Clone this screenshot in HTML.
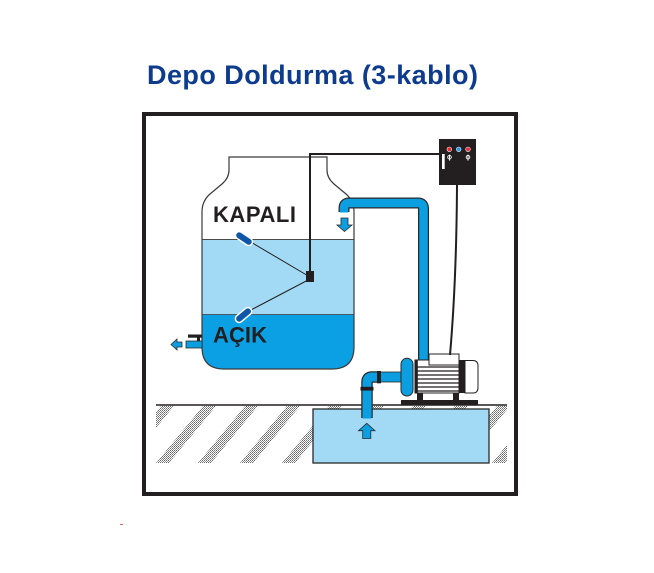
<!DOCTYPE html>
<html>
<head>
<meta charset="utf-8">
<style>
  html,body{margin:0;padding:0;background:#fff;}
  svg{display:block;}
</style>
</head>
<body>
<svg width="654" height="573" viewBox="0 0 654 573" xmlns="http://www.w3.org/2000/svg">
  <defs>
    <pattern id="dots" width="2" height="2" patternUnits="userSpaceOnUse">
      <rect x="0" y="0" width="1" height="1" fill="#6a6a6a"/>
      <rect x="1" y="1" width="1" height="1" fill="#8a8a8a"/>
    </pattern>
    <clipPath id="hatchClip">
      <rect x="156" y="406" width="351" height="57"/>
    </clipPath>
    <clipPath id="tankClip">
      <path d="M229,157 L229,170 Q229,178 222,184 L210,194 Q202,201 202,212 L202,347 Q202,369 224,369 L332,369 Q354,369 354,347 L354,212 Q354,201 346,194 L334,184 Q327,178 327,170 L327,157 Z"/>
    </clipPath>
  </defs>

  <!-- Title -->
  <text x="147" y="84" font-family="'Liberation Sans', sans-serif" font-weight="bold" font-size="27" fill="#0d3b8e" textLength="331" lengthAdjust="spacing">Depo Doldurma (3-kablo)</text>

  <!-- Frame -->
  <rect x="144" y="114" width="372" height="380" fill="#fff" stroke="#231f20" stroke-width="4"/>

  <!-- Ground hatch -->
  <g clip-path="url(#hatchClip)" fill="url(#dots)">
    <polygon points="161,406 174,406 127,463 114,463"/>
    <polygon points="203,406 216,406 169,463 156,463"/>
    <polygon points="245,406 258,406 211,463 198,463"/>
    <polygon points="287,406 300,406 253,463 240,463"/>
    <polygon points="329,406 342,406 295,463 282,463"/>
    <polygon points="371,406 384,406 337,463 324,463"/>
    <polygon points="413,406 426,406 379,463 366,463"/>
    <polygon points="455,406 468,406 421,463 408,463"/>
    <polygon points="497,406 510,406 463,463 450,463"/>
    <polygon points="539,406 552,406 505,463 492,463"/>
  </g>

  <!-- Sump tank -->
  <rect x="313" y="409" width="176" height="54" fill="#a2d9f4" stroke="#2a2a2a" stroke-width="1.3"/>

  <!-- Ground line -->
  <line x1="156" y1="405" x2="507" y2="405" stroke="#231f20" stroke-width="1.5"/>

  <!-- Tank contents -->
  <g clip-path="url(#tankClip)">
    <rect x="195" y="150" width="170" height="230" fill="#fff"/>
    <rect x="195" y="239" width="170" height="75" fill="#a2d9f4"/>
    <rect x="195" y="314" width="170" height="70" fill="#0ba0e3"/>
    <line x1="195" y1="239.5" x2="365" y2="239.5" stroke="#4a4a4a" stroke-width="1"/>
    <line x1="195" y1="314.5" x2="365" y2="314.5" stroke="#4a5a66" stroke-width="1"/>
  </g>
  <path d="M229,157 L229,170 Q229,178 222,184 L210,194 Q202,201 202,212 L202,347 Q202,369 224,369 L332,369 Q354,369 354,347 L354,212 Q354,201 346,194 L334,184 Q327,178 327,170 L327,157 Z" fill="none" stroke="#3a3a3a" stroke-width="1.2"/>

  <!-- Left outlet -->
  <rect x="186" y="341" width="16" height="7" fill="#0b9ee1" stroke="#2a2a2a" stroke-width="0.8"/>
  <rect x="188" y="334.5" width="14" height="3.2" fill="#231f20"/>
  <rect x="197" y="337.5" width="3" height="3.5" fill="#231f20"/>
  <polygon points="171,344.5 177,339 177,342 182,342 182,347 177,347 177,350" fill="#0b9ee1" stroke="#2a2a2a" stroke-width="0.8"/>

  <!-- Discharge pipe (top) -->
  <path d="M344,212 L344,208 Q344,203 349,203 L418,203 Q423.5,203 423.5,208.5 L423.5,362" fill="none" stroke="#2a2a2a" stroke-width="11" stroke-linejoin="round"/>
  <path d="M344,212.5 L344,208 Q344,203 349,203 L418,203 Q423.5,203 423.5,208.5 L423.5,362" fill="none" stroke="#0b9ee1" stroke-width="8.5" stroke-linejoin="round"/>

  <!-- down arrow under spout -->
  <polygon points="341,218 348,218 348,225 352,225 344.5,231.5 337,225 341,225" fill="#0b9ee1" stroke="#2a2a2a" stroke-width="0.8"/>

  <!-- Suction pipe -->
  <path d="M381,377 L372,377 Q367,377 367,382 L367,418" fill="none" stroke="#2a2a2a" stroke-width="11.5" stroke-linejoin="round"/>
  <path d="M382,377 L372,377 Q367,377 367,382 L367,418.5" fill="none" stroke="#0b9ee1" stroke-width="9" stroke-linejoin="round"/>
  <rect x="380" y="372" width="22" height="10" fill="#0b9ee1" stroke="#2a2a2a" stroke-width="0.8"/>
  <rect x="377" y="371" width="4" height="12.3" fill="#231f20"/>
  <rect x="360.5" y="386.8" width="13" height="3.8" fill="#231f20"/>

  <!-- up arrow -->
  <polygon points="366.8,423.3 375,430.7 370.8,430.7 370.8,438.5 362.7,438.5 362.7,430.7 358.5,430.7" fill="#0b9ee1" stroke="#2a2a2a" stroke-width="0.8"/>

  <!-- Pump -->
  <rect x="401" y="400" width="77" height="5" fill="#231f20"/>
  <rect x="417" y="393" width="6" height="7" fill="#231f20"/>
  <rect x="453" y="393" width="6" height="7" fill="#231f20"/>
  <rect x="415" y="360" width="44" height="33" fill="#fff" stroke="#231f20" stroke-width="1"/>
  <rect x="415" y="360" width="2.8" height="33" fill="#231f20"/>
  <g stroke="#231f20" stroke-width="1.2">
    <line x1="417" y1="367" x2="459" y2="367"/>
    <line x1="417" y1="371" x2="459" y2="371"/>
    <line x1="417" y1="375" x2="459" y2="375"/>
    <line x1="417" y1="379" x2="459" y2="379"/>
    <line x1="417" y1="383" x2="459" y2="383"/>
    <line x1="417" y1="387" x2="459" y2="387"/>
    <line x1="417" y1="391" x2="459" y2="391"/>
  </g>
  <rect x="429" y="354" width="30" height="11" fill="#fff" stroke="#231f20" stroke-width="1"/>
  <rect x="459" y="360" width="6" height="33" fill="#231f20"/>
  <path d="M465,360.5 L473,360.5 Q478,360.5 478,366 L478,387.5 Q478,393 473,393 L465,393 Z" fill="#fff" stroke="#231f20" stroke-width="1"/>
  <rect x="401" y="358.3" width="12" height="37.7" rx="6" ry="6" fill="#0b9ee1" stroke="#2a2a2a" stroke-width="1"/>

  <!-- Control box -->
  <rect x="439" y="139" width="37" height="46" fill="#231f20"/>
  <circle cx="449.3" cy="149.3" r="2.3" fill="#e8303a" stroke="#fff" stroke-width="0.6"/>
  <circle cx="458.7" cy="149.3" r="2.3" fill="#2a9be6" stroke="#fff" stroke-width="0.6"/>
  <circle cx="468" cy="149.3" r="2.3" fill="#e8303a" stroke="#fff" stroke-width="0.6"/>
  <rect x="442" y="154" width="2.7" height="15" fill="#fff"/>
  <g stroke="#fff" fill="none" stroke-width="0.9">
    <circle cx="449.5" cy="157.2" r="1.8"/>
    <line x1="449.5" y1="154.6" x2="449.5" y2="160.6"/>
    <circle cx="468" cy="157.2" r="1.8"/>
    <line x1="468" y1="154.6" x2="468" y2="160.6"/>
  </g>

  <!-- Wires -->
  <polyline points="439,154 310,154 310,274" fill="none" stroke="#231f20" stroke-width="2"/>
  <path d="M457,185 Q456.5,280 450,355" fill="none" stroke="#231f20" stroke-width="2"/>
  <line x1="310" y1="277" x2="249" y2="241" stroke="#231f20" stroke-width="1"/>
  <line x1="310" y1="279" x2="249" y2="311" stroke="#231f20" stroke-width="1"/>
  <rect x="306" y="271" width="8" height="11" fill="#231f20"/>

  <!-- Floats -->
  <rect x="234.5" y="234.8" width="19" height="7.5" rx="3.75" ry="3.75" fill="#0e56a8" stroke="#fff" stroke-width="1.5" transform="rotate(34 244 238.5)"/>
  <rect x="234" y="311.3" width="19" height="7.5" rx="3.75" ry="3.75" fill="#0e56a8" stroke="#fff" stroke-width="1.5" transform="rotate(-40 243.5 315)"/>

  <!-- Labels -->
  <text x="213" y="222" font-family="'Liberation Sans', sans-serif" font-weight="bold" font-size="22" fill="#231f20" textLength="83" lengthAdjust="spacing">KAPALI</text>
  <text x="213" y="342.5" font-family="'Liberation Sans', sans-serif" font-weight="bold" font-size="22" fill="#231f20" textLength="54" lengthAdjust="spacing">AÇIK</text>

  <!-- tiny stray mark -->
  <rect x="120" y="524" width="3" height="1" fill="#c86a6a"/>
</svg>
</body>
</html>
